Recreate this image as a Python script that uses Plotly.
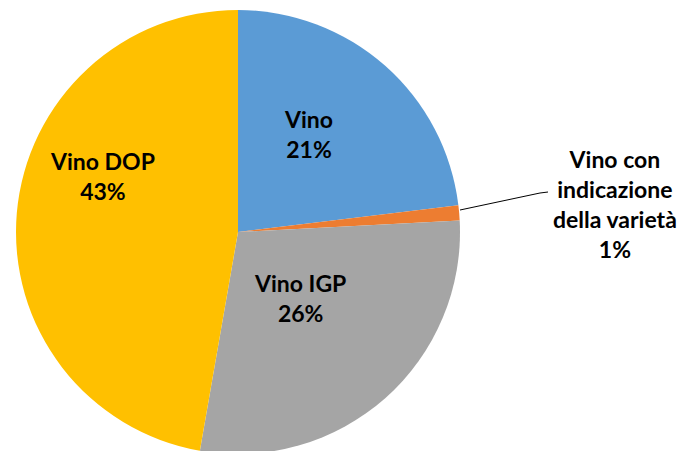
import plotly.graph_objects as go

labels = ["Vino", "Vino con indicazione della varietà", "Vino IGP", "Vino DOP"]
values = [21, 1, 26, 43]
colors = ["#5B9BD5", "#ED7D31", "#A5A5A5", "#FFC000"]
label_text = ["Vino<br>21%", "Vino con<br>indicazione<br>della varietà<br>1%", "Vino IGP<br>26%", "Vino DOP<br>43%"]
label_pos = [(308, 134), (615, 204), (300, 298), (102, 176)]  # window pixels

W, H = 685, 451
OFF = 8  # page body margin


def px(x):
    return (x - OFF) / W


def py(y):
    return 1 - (y - OFF) / H


fig = go.Figure(go.Pie(
    labels=labels, values=values, sort=False, direction="clockwise", rotation=0,
    marker=dict(colors=colors, line=dict(width=0)),
    textinfo="none", hoverinfo="skip", showlegend=False,
    domain=dict(x=[px(16), px(460)], y=[py(454), py(10)]),
))

for txt, (x, y) in zip(label_text, label_pos):
    fig.add_annotation(
        x=px(x), y=py(y), xref="paper", yref="paper",
        xanchor="center", yanchor="middle",
        text=txt, showarrow=False, align="center",
        font=dict(family="Lato", size=23, color="#000000", weight="bold"),
    )

# leader line for the small slice
fig.add_shape(type="path", xref="paper", yref="paper",
              path=f"M {px(460)} {py(210)} L {px(540)} {py(193)} L {px(548)} {py(192)}",
              line=dict(color="#000000", width=1))

fig.update_layout(
    width=W, height=H, margin=dict(l=0, r=0, t=0, b=0),
    paper_bgcolor="white", plot_bgcolor="white",
)

fig.write_html("out.html")
